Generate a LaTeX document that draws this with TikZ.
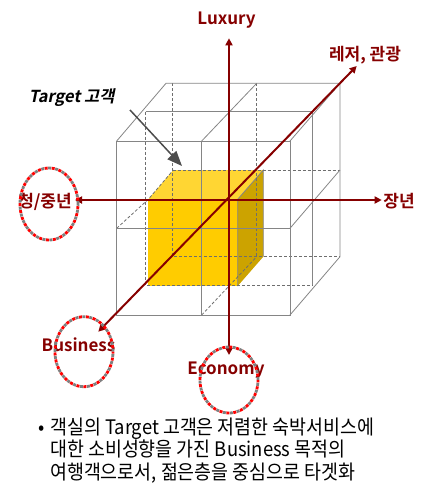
\documentclass[tikz,border=0pt]{standalone}
\usepackage{fontspec}
\setmainfont{Noto Sans CJK KR}[BoldFont={Noto Sans CJK KR Bold}]
\newfontfamily\tgtfont{Noto Sans CJK KR Bold}[FakeSlant=0.2]
\newfontfamily\notefont{Noto Sans CJK KR}[FakeStretch=0.92]
\usetikzlibrary{arrows.meta}
\definecolor{axisred}{HTML}{860000}
\definecolor{gridgray}{HTML}{858585}
\definecolor{hidgray}{HTML}{6E6E6E}
\definecolor{ptrgray}{HTML}{4D4D4D}
\definecolor{cubefront}{HTML}{FFCC00}
\definecolor{cubetop}{HTML}{FFD633}
\definecolor{cubeside}{HTML}{CCA300}
\definecolor{ringred}{HTML}{FF0000}
\definecolor{ringgray}{HTML}{7F7F7F}

\begin{document}
\begin{tikzpicture}[
  x=1pt, y=-1pt,
  font=\fontsize{17}{17}\selectfont,
  gridline/.style = {draw=gridgray, line width=0.8pt},
  hidline/.style = {draw=hidgray, line width=0.8pt, dash pattern=on 3pt off 2pt},
  axis/.style = {draw=axisred, line width=2pt,
                 {Triangle[length=7pt,width=7pt]}-{Triangle[length=7pt,width=7pt]}},
  axislbl/.style = {text=axisred, font=\fontsize{17}{17}\selectfont\bfseries, inner sep=0pt},
  pointer/.style = {draw=ptrgray, line width=1.5pt, -{Triangle[length=15pt,width=12pt]}},
  ring/.style = {draw=ringred, line width=2.8pt, dash pattern=on 3pt off 4pt, dash phase=3.5pt,
                 preaction={draw=ringgray, line width=2.8pt, dash pattern=on 3pt off 4pt, dash phase=0pt}},
]
\useasboundingbox (0,0) rectangle (429,483);

% ---------- target cube (yellow) ----------
\fill[cubefront] (148.3,199.3) rectangle (237.7,286);
\fill[cubetop] (148.3,199.3) -- (173.3,170) -- (263.3,170) -- (237.7,199.3) -- cycle;
\fill[cubeside] (237.7,199.3) -- (263.3,170) -- (263.3,256.7) -- (237.7,286) -- cycle;
\draw[gridline] (237.7,286) -- (237.7,199.3) -- (263.3,170) -- (263.3,256.7);

% ---------- 2x2x2 grid: hidden edges dashed ----------
\draw[hidline] (172.7,83.3) -- (172.7,256.7) -- (340,256.7);
\draw[hidline] (256.7,83.3) -- (256.7,256.7);
\draw[hidline] (172.7,170) -- (340,170);
\draw[hidline] (145.7,111.7) -- (145.7,285) -- (312.7,285);
\draw[hidline] (116.7,228.3) -- (148.3,199.3) -- (173.3,170);
\draw[hidline] (201.7,315) -- (256.7,256.7);

% ---------- 2x2x2 grid: visible edges ----------
\draw[gridline] (116.7,141) rectangle (290,315);
\draw[gridline] (201.7,141) -- (201.7,315);
\draw[gridline] (116.7,228.3) -- (290,228.3);
\draw[gridline] (116.7,141) -- (166,83.3) -- (340,83.3) -- (340,256.7) -- (290,315);
\draw[gridline] (290,141) -- (340,83.3);
\draw[gridline] (290,228.3) -- (340,170);
\draw[gridline] (201.7,141) -- (256.7,83.3);
\draw[gridline] (145.7,111.7) -- (312.7,111.7) -- (312.7,285);

% ---------- axes ----------
\coordinate (lux) at (229,38.3);
\coordinate (eco) at (229,355);
\coordinate (young) at (75,200);
\coordinate (senior) at (381.7,200);
\coordinate (biz) at (98.3,331.7);
\coordinate (leisure) at (356.7,66);

\draw[axis] (eco) -- (lux);
\draw[axis] (young) -- (senior);
\draw[axis] (biz) -- (leisure);

% ---------- labels ----------
\node[axislbl] (luxlbl) at (226.5,20) {Luxury};
\node[axislbl] (leislbl) at (365,55) {레저, 관광};
\node[axislbl] (senlbl) at (399,201) {장년};
\node[axislbl] (younglbl) at (45,202) {청/중년};
\node[axislbl] (bizlbl) at (78.5,344.5) {Business};
\node[axislbl] (ecolbl) at (226,370.5) {Economy};

\node[inner sep=0pt, font=\tgtfont\fontsize{16.5}{16.5}\selectfont] (tgt) at (71.7,97.5) {Target 고객};
\coordinate (tgtfrom) at (130,110);
\coordinate (tgttip) at (182,166);
\draw[pointer] (tgtfrom) -- (tgttip);

% ---------- note ----------
\node[anchor=base west, align=left, inner sep=0pt,
      font=\notefont\fontsize{20}{22.5}\selectfont] (note) at (38,479)
  {\makebox[12pt][l]{•}객실의 Target 고객은 저렴한 숙박서비스에\\
   \hspace*{12pt}대한 소비성향을 가진 Business 목적의\\
   \hspace*{12pt}여행객으로서, 젊은층을 중심으로 타겟화};

% ---------- dotted rings ----------
\draw[ring] (49,204) ellipse [x radius=29pt, y radius=36pt];
\draw[ring] (84,351.7) ellipse [x radius=29pt, y radius=35pt];
\draw[ring] (229,380) ellipse [x radius=29pt, y radius=33pt];

\end{tikzpicture}
\end{document}
